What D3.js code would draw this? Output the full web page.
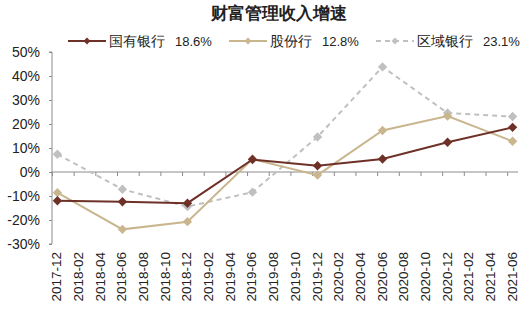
<!DOCTYPE html>
<html>
<head>
<meta charset="utf-8">
<script src="https://cdn.jsdelivr.net/npm/d3@7"></script>
<style>
  body { margin: 0; background: #fff; }
  text { font-family: "Liberation Sans", Arial, sans-serif; }
</style>
</head>
<body>
<div id="chart"></div>
<script>
var width = 528, height = 313;

// data
var months = ["2017-12", "2018-06", "2018-12", "2019-06", "2019-12", "2020-06", "2020-12", "2021-06"];
var tickLabels = ["2017-12", "2018-02", "2018-04", "2018-06", "2018-08", "2018-10", "2018-12",
    "2019-02", "2019-04", "2019-06", "2019-08", "2019-10", "2019-12",
    "2020-02", "2020-04", "2020-06", "2020-08", "2020-10", "2020-12",
    "2021-02", "2021-04", "2021-06"];
var stateBanks = [-12.0, -12.4, -13.0, 5.2, 2.6, 5.4, 12.4, 18.6];
var jointStock = [-8.6, -23.9, -20.7, 5.4, -1.3, 17.3, 23.3, 12.8];
var regional = [7.4, -7.2, -14.4, -8.4, 14.6, 43.8, 24.6, 23.1];
var yTicks = [-30, -20, -10, 0, 10, 20, 30, 40, 50];

var series = [
    {name: "国有银行", last: "18.6%", values: stateBanks, color: "#6e3128", dash: null},
    {name: "股份行", last: "12.8%", values: jointStock, color: "#c9b68e", dash: null},
    {name: "区域银行", last: "23.1%", values: regional, color: "#c0c0c0", dash: "5,4"}
];

var svg = d3.select("#chart").append("svg")
    .attr("width", width)
    .attr("height", height);

// month index from 2017-12
function monthIndex(s) {
    var p = s.split("-");
    return (+p[0] - 2017) * 12 + (+p[1] - 12);
}

var x = d3.scaleLinear().domain([0, 43]).range([52, 518]);
var y = d3.scaleLinear().domain([-30, 50]).range([244, 52]);

// title
svg.append("text")
    .attr("x", 279).attr("y", 19)
    .attr("text-anchor", "middle")
    .attr("font-size", "17px")
    .attr("font-weight", "bold")
    .attr("fill", "#222")
    .text("财富管理收入增速");

// y axis
var yAxis = svg.append("g")
    .attr("transform", "translate(52,0)")
    .call(d3.axisLeft(y).tickValues(yTicks).tickSize(3).tickFormat(d => d + "%"));
yAxis.select(".domain").attr("stroke", "#8c8c8c").attr("d", "M-3," + y(50) + "H0V" + y(-30) + "H-3");
yAxis.selectAll(".tick line").attr("stroke", "#8c8c8c");
yAxis.selectAll(".tick text")
    .attr("x", -12)
    .attr("font-size", "14px")
    .attr("fill", "#222")
    .attr("font-family", "Liberation Sans, Arial, sans-serif");

// x axis at zero
var xAxis = svg.append("g")
    .attr("transform", "translate(0," + y(0) + ")")
    .call(d3.axisBottom(x).tickValues(d3.range(0, 44, 2)).tickSize(4).tickFormat(""));
xAxis.select(".domain").attr("stroke", "#8c8c8c").attr("d", "M" + x(0) + ",0H" + x(43));
xAxis.selectAll(".tick line").attr("stroke", "#8c8c8c");

// x labels at bottom, rotated
svg.append("g").selectAll("text")
    .data(tickLabels)
    .join("text")
    .attr("transform", d => "translate(" + (x(monthIndex(d) + 0.5) + 4) + ",252) rotate(-90)")
    .attr("text-anchor", "end")
    .attr("font-size", "13.5px")
    .attr("fill", "#222")
    .text(d => d);

var line = d3.line()
    .x((d, i) => x(monthIndex(months[i]) + 0.5))
    .y(d => y(d));

var diamond = d3.symbol().type(d3.symbolDiamond2).size(56);

// draw gray first, then tan, then brown on top
[series[2], series[1], series[0]].forEach(function(s) {
    svg.append("path")
        .datum(s.values)
        .attr("fill", "none")
        .attr("stroke", s.color)
        .attr("stroke-width", 2)
        .attr("stroke-dasharray", s.dash)
        .attr("d", line);
    svg.append("g").selectAll("path")
        .data(s.values)
        .join("path")
        .attr("transform", (d, i) => "translate(" + x(monthIndex(months[i]) + 0.5) + "," + y(d) + ")")
        .attr("d", diamond)
        .attr("fill", s.color);
});

// legend
var legendX = [68, 229, 376];
var legend = svg.append("g");
series.forEach(function(s, i) {
    var g = legend.append("g").attr("transform", "translate(" + legendX[i] + ",41)");
    g.append("line")
        .attr("x1", 0).attr("x2", 38)
        .attr("stroke", s.color)
        .attr("stroke-width", 2)
        .attr("stroke-dasharray", s.dash);
    g.append("path")
        .attr("transform", "translate(19,0)")
        .attr("d", d3.symbol().type(d3.symbolDiamond2).size(30))
        .attr("fill", s.color);
    var t = g.append("text")
        .attr("x", 41).attr("y", 5)
        .attr("font-size", "14px")
        .attr("fill", "#222")
        .text(s.name);
    var w = t.node().getComputedTextLength();
    g.append("text")
        .attr("x", 41 + w + 10).attr("y", 5)
        .attr("font-size", "13px")
        .attr("fill", "#222")
        .text(s.last);
});
</script>
</body>
</html>
